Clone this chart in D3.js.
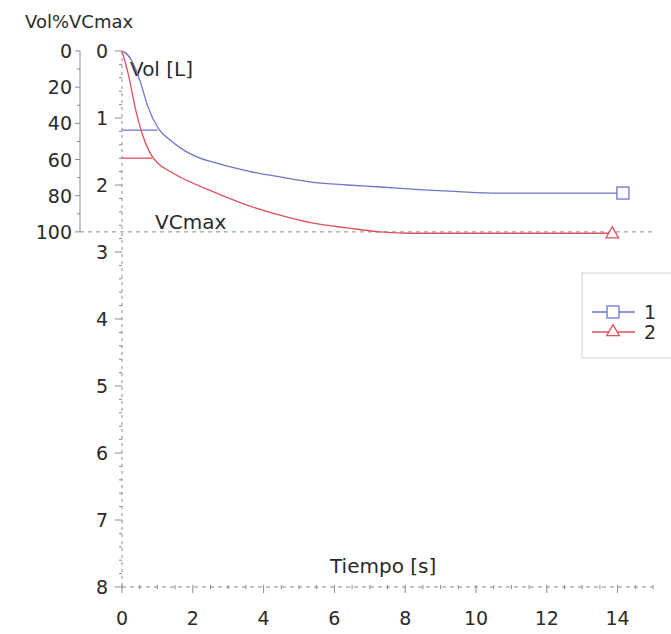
<!DOCTYPE html>
<html>
<head>
<meta charset="utf-8">
<script src="https://cdn.jsdelivr.net/npm/d3@7"></script>
<style>
  body { margin: 0; background: #fff; }
  svg { display: block; }
</style>
</head>
<body>
<svg id="chart" width="671" height="634"></svg>
<script>
// series 1 (blue) and 2 (red): time [s] vs volume [L]
const timeBlue = [0, 0.08, 0.28, 0.51, 0.73, 1.02, 1.41, 1.78, 2.2, 2.57, 3.53, 4.46, 5.4, 6.36, 7.29, 8.4, 9.5, 10.5, 14.15];
const volBlue  = [0, 0.02, 0.15, 0.45, 0.83, 1.15, 1.35, 1.49, 1.6, 1.66, 1.79, 1.88, 1.96, 2.0, 2.03, 2.07, 2.1, 2.12, 2.12];
const timeRed  = [0, 0.17, 0.37, 0.56, 0.79, 1.02, 1.3, 1.64, 2.57, 3.53, 4.46, 5.4, 6.36, 7.29, 8.2, 13.85];
const volRed   = [0, 0.33, 0.84, 1.22, 1.52, 1.68, 1.78, 1.88, 2.10, 2.30, 2.45, 2.57, 2.64, 2.70, 2.72, 2.72];

// horizontal marks: [end time, volume]
const fevBlue = [1.0, 1.18];
const fevRed = [0.85, 1.60];

const vcMax = 2.70;
const seriesNames = ["1", "2"];

const volTicks = [0, 1, 2, 3, 4, 5, 6, 7, 8];
const timeTicks = [0, 2, 4, 6, 8, 10, 12, 14];
const pctTicks = [0, 20, 40, 60, 80, 100];

const blueColor = "#6f74cc";
const redColor = "#e2505c";
const axisColor = "#8a8a8a";
const textColor = "#2a2a2a";
const fontFamily = "DejaVu Sans";

const svg = d3.select("#chart");

let x = d3.scaleLinear().domain([0, 15]).range([122, 653]);
let y = d3.scaleLinear().domain([0, 8]).range([51, 587]);
let yPct = d3.scaleLinear().domain([0, 100]).range([y(0), y(vcMax)]);

function addText(xPos, yPos, str, anchor, size) {
  svg.append("text")
    .attr("x", xPos)
    .attr("y", yPos)
    .text(str)
    .style("fill", textColor)
    .style("text-anchor", anchor)
    .style("font-family", fontFamily)
    .style("font-size", size || 19);
}

// percent axis (solid)
svg.append("line")
  .attr("x1", 80).attr("x2", 80)
  .attr("y1", yPct(0)).attr("y2", yPct(100))
  .style("stroke", axisColor)
  .style("stroke-width", 1);
d3.range(0, 101, 10).forEach(function(p) {
  svg.append("line")
    .attr("x1", p % 20 === 0 ? 75 : 77).attr("x2", 80)
    .attr("y1", yPct(p)).attr("y2", yPct(p))
    .style("stroke", axisColor);
});
pctTicks.forEach(function(p) {
  addText(72, yPct(p) + 7, p, "end");
});

// volume axis (dashed)
svg.append("line")
  .attr("x1", x(0)).attr("x2", x(0))
  .attr("y1", y(0)).attr("y2", y(8))
  .style("stroke", axisColor)
  .style("stroke-dasharray", "3,4");
d3.range(0, 8.01, 0.2).forEach(function(v) {
  let major = Math.abs(v - Math.round(v)) < 0.01;
  svg.append("line")
    .attr("x1", x(0) - (major ? 7 : 3)).attr("x2", x(0))
    .attr("y1", y(v)).attr("y2", y(v))
    .style("stroke", axisColor);
});
volTicks.forEach(function(v) {
  addText(102, y(v) + 7, v, "middle");
});

// time axis (dashed)
svg.append("line")
  .attr("x1", x(0)).attr("x2", x(15))
  .attr("y1", y(8)).attr("y2", y(8))
  .style("stroke", axisColor)
  .style("stroke-dasharray", "4,4");
d3.range(0, 15.01, 0.5).forEach(function(t) {
  let major = Math.abs(t / 2 - Math.round(t / 2)) < 0.01;
  svg.append("line")
    .attr("x1", x(t)).attr("x2", x(t))
    .attr("y1", y(8) - 2).attr("y2", y(8) + (major ? 6 : 2))
    .style("stroke", axisColor);
});
timeTicks.forEach(function(t) {
  addText(x(t), 625, t, "middle");
});

// VCmax reference line
svg.append("line")
  .attr("x1", 80).attr("x2", x(15))
  .attr("y1", y(vcMax)).attr("y2", y(vcMax))
  .style("stroke", axisColor)
  .style("stroke-dasharray", "4,4");

// titles
addText(25, 28, "Vol%VCmax", "start", 18);
addText(130, 76, "Vol [L]", "start", 20);
addText(155, 229, "VCmax", "start", 20);
addText(330, 573, "Tiempo [s]", "start", 20);

// curves
let line = d3.line()
  .x(function(d) { return x(d[0]); })
  .y(function(d) { return y(d[1]); })
  .curve(d3.curveMonotoneX);

function drawSeries(times, vols, fev, color) {
  let pts = times.map(function(t, i) { return [t, vols[i]]; });
  svg.append("path")
    .datum(pts)
    .attr("d", line)
    .style("fill", "none")
    .style("stroke", color)
    .style("stroke-width", 1.3);
  svg.append("line")
    .attr("x1", x(0)).attr("x2", x(fev[0]))
    .attr("y1", y(fev[1])).attr("y2", y(fev[1]))
    .style("stroke", color)
    .style("stroke-width", 1.3);
  return pts[pts.length - 1];
}

function drawSquare(cx, cy, color) {
  svg.append("rect")
    .attr("x", cx - 6).attr("y", cy - 6)
    .attr("width", 12).attr("height", 12)
    .style("fill", "#fff")
    .style("stroke", color)
    .style("stroke-width", 1.3);
}

function drawTriangle(cx, cy, color) {
  svg.append("path")
    .attr("d", d3.symbol().type(d3.symbolTriangle).size(70)())
    .attr("transform", "translate(" + cx + "," + cy + ")")
    .style("fill", "#fff")
    .style("stroke", color)
    .style("stroke-width", 1.3);
}

let lastBlue = drawSeries(timeBlue, volBlue, fevBlue, blueColor);
let lastRed = drawSeries(timeRed, volRed, fevRed, redColor);
drawSquare(x(lastBlue[0]), y(lastBlue[1]), blueColor);
drawTriangle(x(lastRed[0]), y(lastRed[1]) + 1, redColor);

// legend
svg.append("rect")
  .attr("x", 582).attr("y", 273)
  .attr("width", 100).attr("height", 85)
  .style("fill", "#fff")
  .style("stroke", "#d4d4d4");
[blueColor, redColor].forEach(function(c, i) {
  let ly = 312 + i * 20;
  svg.append("line")
    .attr("x1", 592).attr("x2", 635)
    .attr("y1", ly).attr("y2", ly)
    .style("stroke", c)
    .style("stroke-width", 1.3);
  if (i === 0) drawSquare(613, ly, c);
  else drawTriangle(613, ly, c);
  addText(644, ly + 7, seriesNames[i], "start");
});
</script>
</body>
</html>
